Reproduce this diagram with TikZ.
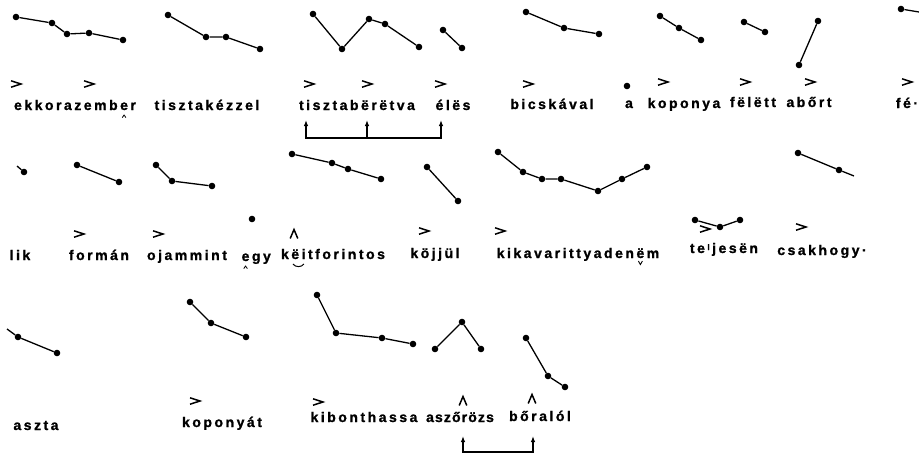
\documentclass[tikz,border=0pt]{standalone}
\usepackage{fontspec}
\setmainfont{Liberation Sans}
\newfontfamily\wordfont[LetterSpace=18,FakeBold=1.2]{Liberation Sans}
\usetikzlibrary{arrows.meta}
\newlength\lsp
\setlength\lsp{2.5pt}
\newcommand\markbelow[3]{\kern\lsp\setbox0\hbox{#1}\leavevmode\rlap{\hbox to\wd0{\hss\raisebox{#3}[0pt][0pt]{#2}\hss}}\box0\kern\lsp}
\newcommand\smallcaret{\tikz[x=1pt,y=1pt,line width=0.8pt]\draw (-1.8,0)--(0,2.6)--(1.8,0);}
\newcommand\smallvee{\tikz[x=1pt,y=1pt,line width=0.9pt]\draw (-2,3.5)--(0,0)--(2,3.5);}
\newcommand\smallsmile{\tikz[x=1pt,y=1pt,line width=1pt]\draw (-5.5,3) .. controls (-3,-0.5) and (3,-0.5) .. (5.5,3);}
\tikzset{
  pt/.style={circle,fill=black,inner sep=0pt,minimum size=6.6pt},
  contour/.style={line width=1.3pt},
  word/.style={font=\wordfont\bfseries\fontsize{14}{16}\selectfont,inner sep=0pt,anchor=base},
  tightword/.style={word,font=\wordfont\bfseries\fontsize{14}{16}\selectfont\addfontfeature{LetterSpace=8}},
  linkarrow/.style={line width=1.2pt,-{Latex[length=6pt,width=4.5pt]}},
  linkarrows/.style={line width=1.2pt,{Latex[length=6pt,width=4.5pt]}-{Latex[length=6pt,width=4.5pt]}},
  gt/.pic={\draw[line width=1.5pt] (-5,-3.2) -- (5,0) -- (-5,3.2);},
  hat/.pic={\draw[line width=1.5pt] (-3.8,4.5) -- (0,-4.5) -- (3.8,4.5);}
}
\begin{document}
\begin{tikzpicture}[x=1pt,y=-1pt]
\useasboundingbox[fill=white] (0,0) rectangle (919,458);

% ---------------- row 1 contours ----------------
\node[pt] (a1) at (16,17) {};
\node[pt] (a2) at (52,23) {};
\node[pt] (a3) at (67,34) {};
\node[pt] (a4) at (89,33) {};
\node[pt] (a5) at (123,40) {};
\draw[contour] (a1) -- (a2) -- (a3) -- (a4) -- (a5);

\node[pt] (b1) at (168,15) {};
\node[pt] (b2) at (206,37) {};
\node[pt] (b3) at (226,37) {};
\node[pt] (b4) at (260,49) {};
\draw[contour] (b1) -- (b2) -- (b3) -- (b4);

\node[pt] (c1) at (313,14) {};
\node[pt] (c2) at (342,49) {};
\node[pt] (c3) at (369,19) {};
\node[pt] (c4) at (385,24) {};
\node[pt] (c5) at (419,47) {};
\draw[contour] (c1) -- (c2) -- (c3) -- (c4) -- (c5);

\node[pt] (d1) at (443,30) {};
\node[pt] (d2) at (462,48) {};
\draw[contour] (d1) -- (d2);

\node[pt] (e1) at (526,12) {};
\node[pt] (e2) at (564,28) {};
\node[pt] (e3) at (599,34) {};
\draw[contour] (e1) -- (e2) -- (e3);

\node[pt] (f1) at (660,16) {};
\node[pt] (f2) at (679,28) {};
\node[pt] (f3) at (701,40) {};
\draw[contour] (f1) -- (f2) -- (f3);

\node[pt] (g1) at (744,22) {};
\node[pt] (g2) at (765,32) {};
\draw[contour] (g1) -- (g2);

\node[pt] (h1) at (818,21) {};
\node[pt] (h2) at (799,65) {};
\draw[contour] (h1) -- (h2);

\node[pt] (i1) at (901,9) {};
\coordinate (i2) at (919,12);
\draw[contour] (i1) -- (i2);

% row 1 marks
\pic at (16,84) {gt};
\pic at (89,84) {gt};
\pic at (309,84) {gt};
\pic at (367,84) {gt};
\pic at (440,84) {gt};
\pic at (528,84) {gt};
\node[pt] (adot) at (627,86) {};
\pic at (663,82) {gt};
\pic at (745,82) {gt};
\pic at (810,82) {gt};
\pic at (907,82) {gt};

% row 1 words
\node[word] (w1) at (75,110) {ekkorazemb\markbelow{e}{\smallcaret}{-8pt}r};
\node[word] (w2) at (207,110) {tisztakézzel};
\node[word] (w3) at (357,110) {tisztabërëtva};
\node[word] (w4) at (453,110) {élës};
\node[word] (w5) at (552,109) {bicskával};
\node[word] (w6) at (629,108) {a};
\node[word] (w7) at (684,108) {koponya};
\node[word] (w8) at (753,107) {fëlëtt};
\node[word] (w9) at (809,107) {abőrt};
\node[word] (w10) at (907,108) {fé·};

% row 1 links
\coordinate (t1) at (306,120);
\coordinate (t2) at (367,120);
\coordinate (t3) at (441,120);
\coordinate (r2) at (367,138);
\coordinate (r3) at (441,138);
\draw[linkarrows] (t1) |- (r3) -- (t3);
\draw[linkarrow] (r2) -- (t2);

% ---------------- row 2 contours ----------------
\coordinate (j0) at (17,166);
\node[pt] (j1) at (24,172) {};
\draw[contour] (j0) -- (j1);

\node[pt] (k1) at (77,165) {};
\node[pt] (k2) at (119,182) {};
\draw[contour] (k1) -- (k2);

\node[pt] (l1) at (156,165) {};
\node[pt] (l2) at (172,181) {};
\node[pt] (l3) at (212,186) {};
\draw[contour] (l1) -- (l2) -- (l3);

\node[pt] (m1) at (292,154) {};
\node[pt] (m2) at (332,163) {};
\node[pt] (m3) at (348,169) {};
\node[pt] (m4) at (381,179) {};
\draw[contour] (m1) -- (m2) -- (m3) -- (m4);

\node[pt] (n1) at (427,167) {};
\node[pt] (n2) at (458,201) {};
\draw[contour] (n1) -- (n2);

\node[pt] (o1) at (498,152) {};
\node[pt] (o2) at (523,172) {};
\node[pt] (o3) at (542,179) {};
\node[pt] (o4) at (561,179) {};
\node[pt] (o5) at (598,191) {};
\node[pt] (o6) at (622,179) {};
\node[pt] (o7) at (647,167) {};
\draw[contour] (o1) -- (o2) -- (o3) -- (o4) -- (o5) -- (o6) -- (o7);

\node[pt] (p1) at (695,220) {};
\node[pt] (p2) at (720,227) {};
\node[pt] (p3) at (740,220) {};
\draw[contour] (p1) -- (p2) -- (p3);

\node[pt] (q1) at (798,153) {};
\node[pt] (q2) at (839,170) {};
\coordinate (q3) at (854,176);
\draw[contour] (q1) -- (q2) -- (q3);

% row 2 marks
\pic at (79,234) {gt};
\pic at (158,234) {gt};
\node[pt] (egydot) at (252,219) {};
\pic at (294,234) {hat};
\pic at (424,231) {gt};
\pic at (500,231) {gt};
\pic at (705,229) {gt};
\pic at (801,227) {gt};

% row 2 words
\node[word] (x1) at (20,260) {lik};
\node[word] (x2) at (99,260) {formán};
\node[word] (x3) at (187,260) {ojammint};
\node[word] (x4) at (255,261) {\markbelow{e}{\smallcaret}{-8pt}gy};
\node[word] (x5) at (333,259) {k\markbelow{ëi}{\smallsmile}{-9pt}tforintos};
\node[word] (x6) at (435,258) {köjjül};
\node[word] (x7) at (578,258) {kikavarittyaden\markbelow{ë}{\smallvee}{-7pt}m};
\node[word] (x8) at (724,253) {te\kern\lsp\raisebox{3pt}{\fontsize{8}{8}\selectfont l}\kern\lsp jesën};
\node[word] (x9) at (822,255) {csakhogy·};

% ---------------- row 3 contours ----------------
\coordinate (s0) at (7,329);
\node[pt] (s1) at (18,337) {};
\node[pt] (s2) at (57,353) {};
\draw[contour] (s0) -- (s1) -- (s2);

\node[pt] (u1) at (190,302) {};
\node[pt] (u2) at (211,323) {};
\node[pt] (u3) at (246,337) {};
\draw[contour] (u1) -- (u2) -- (u3);

\node[pt] (v1) at (317,295) {};
\node[pt] (v2) at (336,333) {};
\node[pt] (v3) at (382,338) {};
\node[pt] (v4) at (413,344) {};
\draw[contour] (v1) -- (v2) -- (v3) -- (v4);

\node[pt] (y1) at (435,349) {};
\node[pt] (y2) at (462,322) {};
\node[pt] (y3) at (481,349) {};
\draw[contour] (y1) -- (y2) -- (y3);

\node[pt] (z1) at (526,338) {};
\node[pt] (z2) at (548,376) {};
\node[pt] (z3) at (565,387) {};
\draw[contour] (z1) -- (z2) -- (z3);

% row 3 marks
\pic at (195,401) {gt};
\pic at (318,402) {gt};
\pic at (463,401) {hat};
\pic at (532,399) {hat};

% row 3 words
\node[word] (x10) at (36,430) {aszta};
\node[word] (x11) at (222,427) {koponyát};
\node[word] (x12) at (364,422) {kibonthassa};
\node[tightword] (x13) at (460,422) {aszőrözs};
\node[word] (x14) at (540,421) {bőralól};

% row 3 links
\coordinate (tt1) at (463,436);
\coordinate (tt2) at (533,436);
\coordinate (rr2) at (533,452);
\draw[linkarrows] (tt1) |- (rr2) -- (tt2);
\end{tikzpicture}
\end{document}
